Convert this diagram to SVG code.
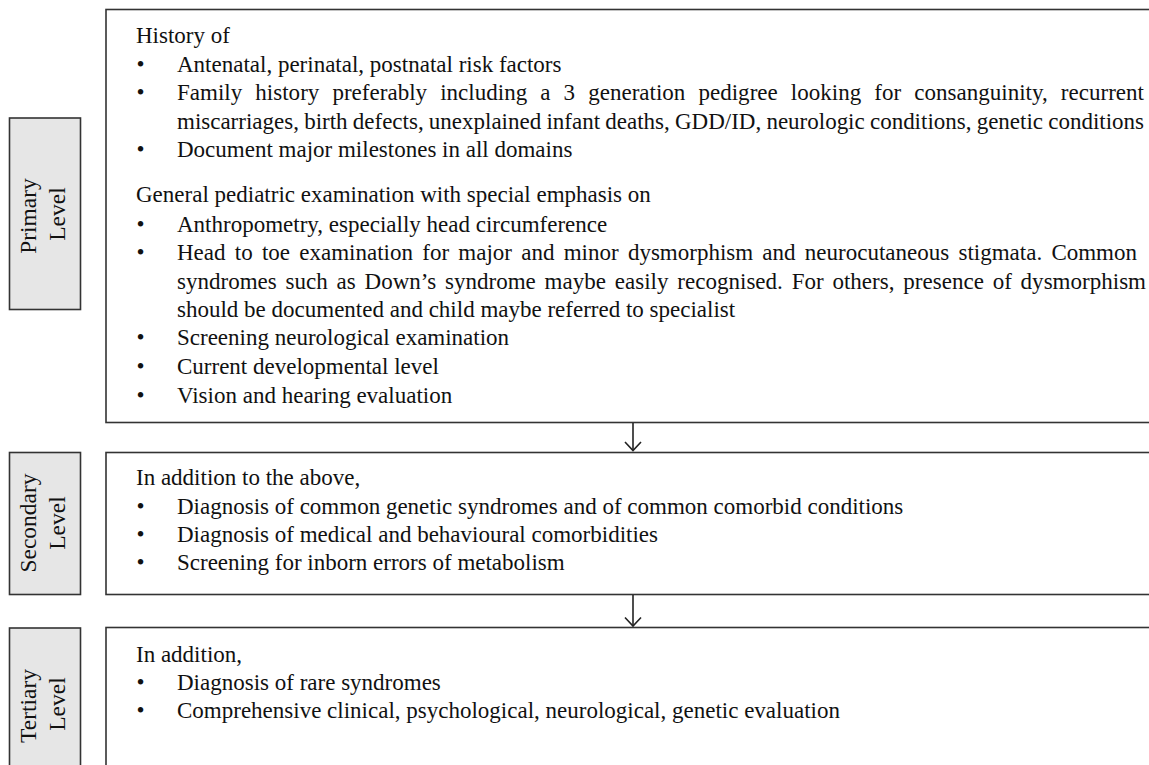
<svg xmlns="http://www.w3.org/2000/svg" width="1149" height="765" viewBox="0 0 1149 765">
<style>
.t{font-family:"Liberation Serif","Times New Roman",serif;font-size:23px;fill:#111}
.box{fill:#fff;stroke:#333;stroke-width:1.6}
.lab{fill:#e6e6e6;stroke:#333;stroke-width:1.6}
.lt{font-family:"Liberation Serif","Times New Roman",serif;font-size:23.5px;fill:#111;text-anchor:middle}
.con{fill:none;stroke:#222;stroke-width:1.6}
</style>
<rect width="1149" height="765" fill="#fff"/>
<g id="primary-label">
<rect class="lab" x="9.5" y="118" width="71" height="191.5"/>
<text class="lt" transform="translate(36,216) rotate(-90)">Primary</text>
<text class="lt" transform="translate(65,214) rotate(-90)">Level</text>
</g>
<g id="primary-box">
<rect class="box" x="106" y="9.5" width="1100" height="413"/>
<text class="t" x="136" y="43">History of</text>
<text class="t" x="136.5" y="72">•</text><text class="t" x="177" y="72">Antenatal, perinatal, postnatal risk factors</text>
<text class="t" x="136.5" y="100">•</text><text class="t" x="177" y="100" word-spacing="7.3" textLength="967" lengthAdjust="spacing">Family history preferably including a 3 generation pedigree looking for consanguinity, recurrent</text>
<text class="t" x="177" y="129" word-spacing="-0.5" textLength="967" lengthAdjust="spacing">miscarriages, birth defects, unexplained infant deaths, GDD/ID, neurologic conditions, genetic conditions</text>
<text class="t" x="136.5" y="157">•</text><text class="t" x="177" y="157">Document major milestones in all domains</text>
<text class="t" x="136" y="202">General pediatric examination with special emphasis on</text>
<text class="t" x="136.5" y="232">•</text><text class="t" x="177" y="232">Anthropometry, especially head circumference</text>
<text class="t" x="136.5" y="260">•</text><text class="t" x="177" y="260" word-spacing="3.5" textLength="960" lengthAdjust="spacing">Head to toe examination for major and minor dysmorphism and neurocutaneous stigmata. Common</text>
<text class="t" x="177" y="289" word-spacing="3" textLength="969" lengthAdjust="spacing">syndromes such as Down’s syndrome maybe easily recognised. For others, presence of dysmorphism</text>
<text class="t" x="177" y="317">should be documented and child maybe referred to specialist</text>
<text class="t" x="136.5" y="345">•</text><text class="t" x="177" y="345">Screening neurological examination</text>
<text class="t" x="136.5" y="374">•</text><text class="t" x="177" y="374">Current developmental level</text>
<text class="t" x="136.5" y="403">•</text><text class="t" x="177" y="403">Vision and hearing evaluation</text>
</g>
<g id="secondary-label">
<rect class="lab" x="9.5" y="452.5" width="71" height="142"/>
<text class="lt" transform="translate(36,523) rotate(-90)">Secondary</text>
<text class="lt" transform="translate(65,523) rotate(-90)">Level</text>
</g>
<g id="secondary-box">
<rect class="box" x="106" y="452.5" width="1100" height="142"/>
<text class="t" x="136" y="485">In addition to the above,</text>
<text class="t" x="136.5" y="514">•</text><text class="t" x="177" y="514">Diagnosis of common genetic syndromes and of common comorbid conditions</text>
<text class="t" x="136.5" y="542">•</text><text class="t" x="177" y="542">Diagnosis of medical and behavioural comorbidities</text>
<text class="t" x="136.5" y="570">•</text><text class="t" x="177" y="570">Screening for inborn errors of metabolism</text>
</g>
<g id="tertiary-label">
<rect class="lab" x="9.5" y="628" width="71" height="200"/>
<text class="lt" transform="translate(36,706) rotate(-90)">Tertiary</text>
<text class="lt" transform="translate(65,704) rotate(-90)">Level</text>
</g>
<g id="tertiary-box">
<rect class="box" x="106" y="627.5" width="1100" height="200"/>
<text class="t" x="136" y="662">In addition,</text>
<text class="t" x="136.5" y="690">•</text><text class="t" x="177" y="690">Diagnosis of rare syndromes</text>
<text class="t" x="136.5" y="718">•</text><text class="t" x="177" y="718">Comprehensive clinical, psychological, neurological, genetic evaluation</text>
</g>
<g id="connectors">
<line class="con" x1="633" y1="423" x2="633" y2="450"/>
<polyline class="con" points="625,442 633,450.5 641,442"/>
<line class="con" x1="633" y1="595" x2="633" y2="626"/>
<polyline class="con" points="625,617.5 633,626 641,617.5"/>
</g>
</svg>
